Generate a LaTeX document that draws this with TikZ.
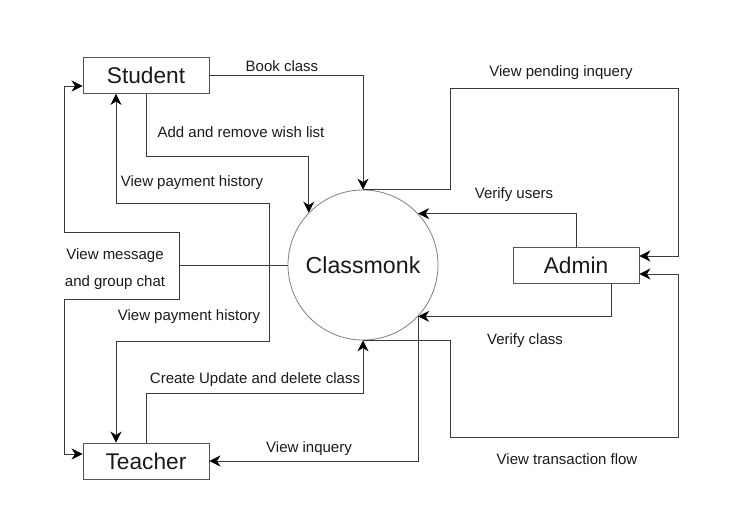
\documentclass[tikz,border=0pt]{standalone}
\usepackage{fontspec}
\setmainfont{Liberation Sans}
\usetikzlibrary{arrows.meta,calc}
\definecolor{linec}{HTML}{3A3A3A}
\definecolor{boxc}{HTML}{555555}
\definecolor{txtc}{HTML}{1A1A1A}
\tikzset{
  tip/.tip={Stealth[length=11pt,width=11pt,inset=3.5pt,color=black]},
  entity/.style={draw=boxc, line width=0.9pt, minimum width=126pt, minimum height=36pt, inner sep=0pt, font=\fontsize{22.7}{24}\selectfont, text=txtc},
  proc/.style={circle, draw=gray, line width=0.8pt, minimum size=150pt, inner sep=0pt, font=\fontsize{23.2}{24}\selectfont, text=txtc},
  flow/.style={draw=linec, line width=0.9pt, -tip},
  flowtwo/.style={draw=linec, line width=0.9pt, tip-tip},
  plain/.style={draw=linec, line width=0.9pt},
  lbl/.style={font=\fontsize{15}{16}\selectfont, text=txtc, inner sep=0pt}
}
\begin{document}
\begin{tikzpicture}[x=1pt,y=-1pt]
\useasboundingbox (0,0) rectangle (741,529);
% nodes
\node[entity] (student) at (146,75.5) {Student};
\node[entity] (teacher) at (146,461) {Teacher};
\node[entity] (admin) at (576,265) {Admin};
\node[proc] (cm) at (363,265) {Classmonk};
% coordinates
\coordinate (ph1) at (269,203);
\coordinate (ph2) at (269,341);
\coordinate (mj) at (179,265);
\coordinate (m1) at (179,232);
\coordinate (m2) at (179,299);
\coordinate (pi1) at (450,88);
\coordinate (pi2) at (678,256);
\coordinate (tf1) at (450,437);
\coordinate (tf2) at (678,274);
% connectors
\draw[flow] (student.east) -| (cm.north);
\draw[flow] (student.south) -- ++(0,63) -| (cm.136);
\draw[flowtwo] ([xshift=-30pt]student.south) |- (ph1) -- (ph2) -| ([xshift=-30pt]teacher.north);
\draw[plain] (cm.west) -- (mj);
\draw[flowtwo] ([yshift=-10.5pt]student.west) -| (64,232) -- (m1) -- (m2) -- (64,299) |- ([yshift=7pt]teacher.west);
\draw[flow] (teacher.north) -- ++(0,-49) -| (cm.south);
\draw[flow] (cm.-43) |- (teacher.east);
\draw[flow] (admin.north) |- (cm.43);
\draw[flow] ([xshift=35pt]admin.south) |- (cm.-43);
\draw[flow] (cm.north) -| (pi1) -| (pi2) -- ([yshift=9pt]admin.east);
\draw[flow] (cm.south) -| (tf1) -| (tf2) -- ([yshift=-9pt]admin.east);
% labels
\node[lbl] (l1) at (282,66) {Book class};
\node[lbl] (l2) at (241,132) {Add and remove wish list};
\node[lbl] (l3) at (192,183) {View payment history};
\node[lbl] (l4) at (115,256) {View message};
\node[lbl] (l5) at (115,283) {and group chat};
\node[lbl] (l6) at (189,317) {View payment history};
\node[lbl] (l7) at (255,380) {Create Update and delete class};
\node[lbl] (l8) at (309,449) {View inquery};
\node[lbl] (l9) at (561,73) {View pending inquery};
\node[lbl] (l10) at (514,195) {Verify users};
\node[lbl] (l11) at (525,341) {Verify class};
\node[lbl] (l12) at (567,459) {View transaction flow};
\end{tikzpicture}
\end{document}
